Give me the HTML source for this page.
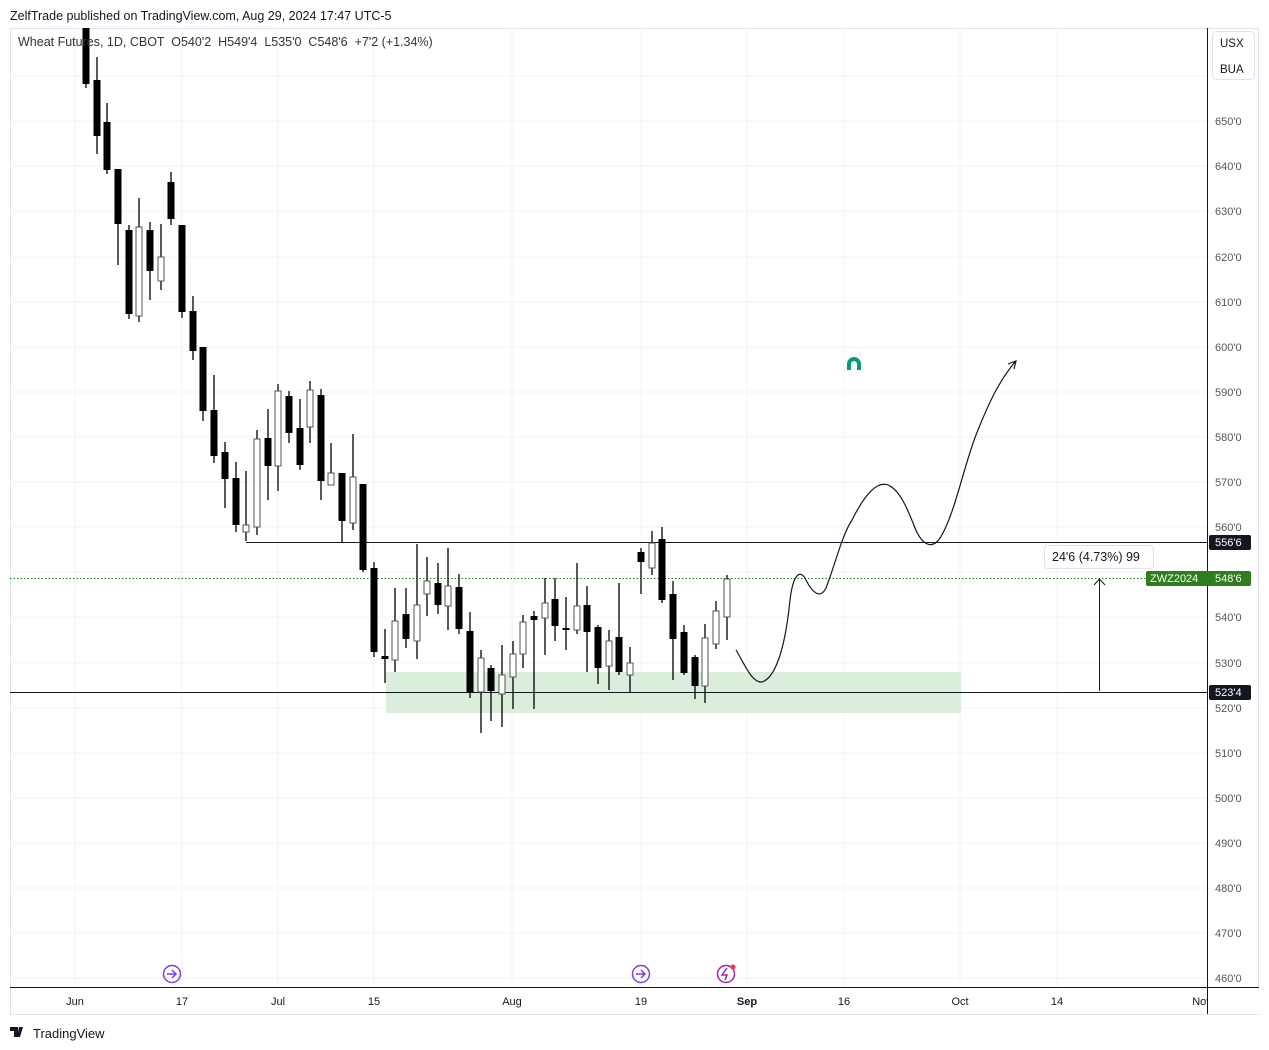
<!DOCTYPE html>
<html><head><meta charset="utf-8"><style>
body{margin:0;background:#fff;width:1269px;height:1050px;overflow:hidden;font-family:"Liberation Sans",sans-serif}
svg{position:absolute;left:0;top:0}
</style></head><body>
<svg width="1269" height="1050" xmlns="http://www.w3.org/2000/svg" font-family="Liberation Sans, sans-serif">
<rect width="1269" height="1050" fill="#fff"/>
<text x="10" y="20" font-size="12.5" fill="#131722">ZelfTrade published on TradingView.com, Aug 29, 2024 17:47 UTC-5</text>
<rect x="10.5" y="28.5" width="1248" height="986" fill="none" stroke="#e0e3eb"/>
<g stroke="#f0f3fa" stroke-width="1">
<line x1="75" y1="28" x2="75" y2="987"/><line x1="182" y1="28" x2="182" y2="987"/><line x1="278" y1="28" x2="278" y2="987"/><line x1="374" y1="28" x2="374" y2="987"/><line x1="512" y1="28" x2="512" y2="987"/><line x1="641" y1="28" x2="641" y2="987"/><line x1="747" y1="28" x2="747" y2="987"/><line x1="844" y1="28" x2="844" y2="987"/><line x1="960" y1="28" x2="960" y2="987"/><line x1="1057" y1="28" x2="1057" y2="987"/>
<line x1="10" y1="76" x2="1207" y2="76"/><line x1="10" y1="121" x2="1207" y2="121"/><line x1="10" y1="166" x2="1207" y2="166"/><line x1="10" y1="211" x2="1207" y2="211"/><line x1="10" y1="257" x2="1207" y2="257"/><line x1="10" y1="302" x2="1207" y2="302"/><line x1="10" y1="347" x2="1207" y2="347"/><line x1="10" y1="392" x2="1207" y2="392"/><line x1="10" y1="437" x2="1207" y2="437"/><line x1="10" y1="482" x2="1207" y2="482"/><line x1="10" y1="527" x2="1207" y2="527"/><line x1="10" y1="572" x2="1207" y2="572"/><line x1="10" y1="617" x2="1207" y2="617"/><line x1="10" y1="663" x2="1207" y2="663"/><line x1="10" y1="708" x2="1207" y2="708"/><line x1="10" y1="753" x2="1207" y2="753"/><line x1="10" y1="798" x2="1207" y2="798"/><line x1="10" y1="843" x2="1207" y2="843"/><line x1="10" y1="888" x2="1207" y2="888"/><line x1="10" y1="933" x2="1207" y2="933"/><line x1="10" y1="978" x2="1207" y2="978"/>
</g>
<rect x="386" y="672" width="575" height="41" fill="#d9ecd9" opacity="0.95"/>
<line x1="246" y1="542.5" x2="1207" y2="542.5" stroke="#131722" stroke-width="1"/>
<line x1="10" y1="692.5" x2="1207" y2="692.5" stroke="#131722" stroke-width="1"/>
<line x1="10" y1="578.5" x2="1207" y2="578.5" stroke="#1e7b1e" stroke-dasharray="1.5,2" stroke-width="1"/>
<g stroke="#000" stroke-width="1.3">
<line x1="86" y1="28" x2="86" y2="88"/><line x1="97" y1="57" x2="97" y2="154"/><line x1="107" y1="103" x2="107" y2="174"/><line x1="118" y1="169" x2="118" y2="265"/><line x1="129" y1="225" x2="129" y2="319"/><line x1="139" y1="198" x2="139" y2="322"/><line x1="150" y1="222" x2="150" y2="300"/><line x1="161" y1="224" x2="161" y2="290"/><line x1="171" y1="172" x2="171" y2="225"/><line x1="182" y1="225" x2="182" y2="318"/><line x1="193" y1="296" x2="193" y2="360"/><line x1="203" y1="347" x2="203" y2="421"/><line x1="214" y1="375" x2="214" y2="463"/><line x1="225" y1="442" x2="225" y2="508"/><line x1="236" y1="462" x2="236" y2="532"/><line x1="246" y1="471" x2="246" y2="541"/><line x1="257" y1="430" x2="257" y2="535"/><line x1="268" y1="409" x2="268" y2="500"/><line x1="278" y1="384" x2="278" y2="491"/><line x1="289" y1="391" x2="289" y2="443"/><line x1="300" y1="399" x2="300" y2="470"/><line x1="310" y1="381" x2="310" y2="443"/><line x1="321" y1="389" x2="321" y2="500"/><line x1="331" y1="443" x2="331" y2="485"/><line x1="342" y1="473" x2="342" y2="543"/><line x1="353" y1="434" x2="353" y2="530"/><line x1="363" y1="484" x2="363" y2="572"/><line x1="374" y1="562" x2="374" y2="657"/><line x1="385" y1="629" x2="385" y2="683"/><line x1="395" y1="588" x2="395" y2="672"/><line x1="406" y1="588" x2="406" y2="648"/><line x1="417" y1="544" x2="417" y2="659"/><line x1="427" y1="557" x2="427" y2="616"/><line x1="438" y1="563" x2="438" y2="614"/><line x1="448" y1="548" x2="448" y2="630"/><line x1="459" y1="574" x2="459" y2="634"/><line x1="470" y1="612" x2="470" y2="698"/><line x1="481" y1="650" x2="481" y2="733"/><line x1="491" y1="665" x2="491" y2="721"/><line x1="502" y1="645" x2="502" y2="727"/><line x1="513" y1="641" x2="513" y2="709"/><line x1="523" y1="615" x2="523" y2="668"/><line x1="534" y1="611" x2="534" y2="709"/><line x1="545" y1="578" x2="545" y2="655"/><line x1="555" y1="578" x2="555" y2="641"/><line x1="566" y1="597" x2="566" y2="650"/><line x1="577" y1="563" x2="577" y2="634"/><line x1="587" y1="586" x2="587" y2="672"/><line x1="598" y1="625" x2="598" y2="684"/><line x1="609" y1="630" x2="609" y2="690"/><line x1="619" y1="583" x2="619" y2="675"/><line x1="630" y1="647" x2="630" y2="692"/><line x1="641" y1="548" x2="641" y2="594"/><line x1="652" y1="531" x2="652" y2="575"/><line x1="662" y1="527" x2="662" y2="603"/><line x1="673" y1="581" x2="673" y2="680"/><line x1="684" y1="625" x2="684" y2="675"/><line x1="695" y1="655" x2="695" y2="699"/><line x1="705" y1="624" x2="705" y2="703"/><line x1="716" y1="601" x2="716" y2="649"/><line x1="727" y1="575" x2="727" y2="640"/>
</g>
<g fill="#000">
<rect x="82.5" y="28" width="7" height="56"/><rect x="93.5" y="80" width="7" height="56"/><rect x="103.5" y="122" width="7" height="48"/><rect x="114.5" y="169" width="7" height="55"/><rect x="125.5" y="230" width="7" height="84"/><rect x="146.5" y="230" width="7" height="41"/><rect x="167.5" y="182" width="7" height="37"/><rect x="178.5" y="225" width="7" height="87"/><rect x="189.5" y="311" width="7" height="40"/><rect x="199.5" y="347" width="7" height="64"/><rect x="210.5" y="410" width="7" height="46"/><rect x="221.5" y="452" width="7" height="27"/><rect x="232.5" y="478" width="7" height="47"/><rect x="264.5" y="438" width="7" height="28"/><rect x="285.5" y="396" width="7" height="37"/><rect x="296.5" y="428" width="7" height="37"/><rect x="317.5" y="395" width="7" height="86"/><rect x="338.5" y="473" width="7" height="48"/><rect x="359.5" y="484" width="7" height="86"/><rect x="370.5" y="568" width="7" height="84"/><rect x="381.5" y="656" width="7" height="3"/><rect x="402.5" y="614" width="7" height="25"/><rect x="434.5" y="583" width="7" height="22"/><rect x="455.5" y="587" width="7" height="42"/><rect x="466.5" y="631" width="7" height="61"/><rect x="487.5" y="668" width="7" height="23"/><rect x="530.5" y="616" width="7" height="4"/><rect x="551.5" y="599" width="7" height="27"/><rect x="562.5" y="628" width="7" height="2"/><rect x="583.5" y="605" width="7" height="27"/><rect x="594.5" y="627" width="7" height="41"/><rect x="615.5" y="637" width="7" height="35"/><rect x="637.5" y="552" width="7" height="10"/><rect x="658.5" y="539" width="7" height="61"/><rect x="669.5" y="594" width="7" height="45"/><rect x="680.5" y="632" width="7" height="41"/><rect x="691.5" y="657" width="7" height="29"/>
</g>
<g fill="#fff" stroke="#555" stroke-width="1">
<rect x="136" y="227" width="6" height="89"/><rect x="158" y="257" width="6" height="24"/><rect x="243" y="525" width="6" height="7"/><rect x="254" y="439" width="6" height="88"/><rect x="275" y="391" width="6" height="75"/><rect x="307" y="390" width="6" height="37"/><rect x="328" y="473" width="6" height="12"/><rect x="350" y="477" width="6" height="46"/><rect x="392" y="621" width="6" height="39"/><rect x="414" y="605" width="6" height="36"/><rect x="424" y="581" width="6" height="13"/><rect x="445" y="586" width="6" height="20"/><rect x="478" y="658" width="6" height="34"/><rect x="499" y="675" width="6" height="19"/><rect x="510" y="654" width="6" height="23"/><rect x="520" y="622" width="6" height="32"/><rect x="542" y="603" width="6" height="15"/><rect x="574" y="606" width="6" height="24"/><rect x="606" y="641" width="6" height="25"/><rect x="627" y="663" width="6" height="12"/><rect x="649" y="543" width="6" height="25"/><rect x="702" y="638" width="6" height="48"/><rect x="713" y="611" width="6" height="33"/><rect x="724" y="579" width="6" height="38"/>
</g>
<path d="M736,650 C745,665 752,683 762,682 C775,678 785,650 790,600 C793,575 800,568 806,580 C812,592 820,600 826,588 C835,565 842,535 852,520 C862,500 875,480 888,485 C900,490 908,510 915,528 C922,545 932,550 940,538 C955,515 965,460 978,430 C990,400 1000,380 1015,362" fill="none" stroke="#131722" stroke-width="1.2"/>
<path d="M1008,364 L1016,361 L1014,369" fill="none" stroke="#131722" stroke-width="1.2"/>
<line x1="1099.5" y1="580" x2="1099.5" y2="691" stroke="#131722" stroke-width="1"/>
<path d="M1094,585 L1099.5,579 L1105,585" fill="none" stroke="#131722" stroke-width="1"/>
<rect x="1044.5" y="545.5" width="109" height="23" rx="3" fill="#fff" stroke="#e0e3eb"/>
<text x="1052" y="561" font-size="12.5" fill="#131722">24'6 (4.73%) 99</text>
<g transform="translate(854,364)"><path d="M-7,6 L-7,0 A7,7 0 0 1 7,0 L7,6 L3,6 L3,0 A3,3 0 0 0 -3,0 L-3,6 Z" fill="#089981"/></g>
<line x1="10" y1="987.5" x2="1259" y2="987.5" stroke="#131722"/>
<line x1="1207.5" y1="28" x2="1207.5" y2="1014" stroke="#131722"/>
<rect x="1212.5" y="31.5" width="42" height="48" rx="4" fill="#fff" stroke="#e0e3eb"/>
<text x="1220" y="47" font-size="11.5" fill="#131722">USX</text>
<text x="1220" y="73" font-size="11.5" fill="#131722">BUA</text>
<g font-size="11" fill="#555">
<text x="1215" y="125">650'0</text><text x="1215" y="170">640'0</text><text x="1215" y="215">630'0</text><text x="1215" y="261">620'0</text><text x="1215" y="306">610'0</text><text x="1215" y="351">600'0</text><text x="1215" y="396">590'0</text><text x="1215" y="441">580'0</text><text x="1215" y="486">570'0</text><text x="1215" y="531">560'0</text><text x="1215" y="621">540'0</text><text x="1215" y="667">530'0</text><text x="1215" y="712">520'0</text><text x="1215" y="757">510'0</text><text x="1215" y="802">500'0</text><text x="1215" y="847">490'0</text><text x="1215" y="892">480'0</text><text x="1215" y="937">470'0</text><text x="1215" y="982">460'0</text>
</g>
<rect x="1209" y="535" width="42" height="15" rx="2" fill="#131722"/>
<text x="1215" y="546" font-size="11" fill="#fff">556'6</text>
<rect x="1146" y="571" width="105" height="15" rx="2" fill="#2e7d1e"/>
<text x="1150" y="582" font-size="11" fill="#fff">ZWZ2024</text><text x="1215" y="582" font-size="11" fill="#fff">548'6</text>
<rect x="1209" y="685" width="42" height="15" rx="2" fill="#131722"/>
<text x="1215" y="696" font-size="11" fill="#fff">523'4</text>
<g font-size="11" fill="#131722" text-anchor="middle">
<text x="75" y="1005">Jun</text><text x="182" y="1005">17</text><text x="278" y="1005">Jul</text><text x="374" y="1005">15</text><text x="512" y="1005">Aug</text><text x="641" y="1005">19</text><text x="747" y="1005" font-weight="bold">Sep</text><text x="844" y="1005">16</text><text x="960" y="1005">Oct</text><text x="1057" y="1005">14</text><text x="1202" y="1005">Nov</text>
</g>
<g fill="none" stroke="#7b3fe4" stroke-width="1.5">
<circle cx="172" cy="974" r="8.5"/><circle cx="641" cy="974" r="8.5"/><circle cx="726" cy="974" r="8.5" stroke="#9c27b0"/>
</g>
<path d="M167,974 h8 M172,970 l4,4 -4,4 M636,974 h8 M641,970 l4,4 -4,4" stroke="#7b3fe4" stroke-width="1.5" fill="none"/>
<path d="M727,968 L722,975 L727,975 L725,980" stroke="#9c27b0" stroke-width="1.5" fill="none"/>
<circle cx="733" cy="967" r="2.5" fill="#f23645"/>
<rect x="1208" y="988" width="51" height="26" fill="#fff"/>
<text x="18" y="46" font-size="12.5" fill="#333" xml:space="preserve" style="white-space:pre">Wheat Futures, 1D, CBOT  O540'2  H549'4  L535'0  C548'6  +7'2 (+1.34%)</text>
<path d="M10,1027 h8 v10 h-4 v-6 h-4 z M19,1027 h4 l-3,10 h-3 z" fill="#131722"/>
<text x="33" y="1038" font-size="13" fill="#131722">TradingView</text>
</svg>
</body></html>
